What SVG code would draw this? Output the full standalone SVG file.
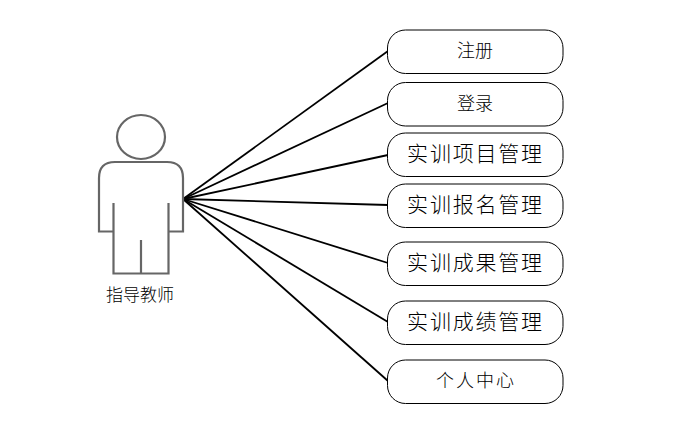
<svg xmlns="http://www.w3.org/2000/svg" width="674" height="435" viewBox="0 0 674 435">
<style>
.box{fill:#fff;stroke:#000;stroke-width:1}
.fig{fill:none;stroke:#666;stroke-width:2.2}
.c{fill:none;stroke:#000;stroke-width:1.8}
text{font-family:"Noto Sans CJK SC","Noto Sans",sans-serif;fill:#000;text-anchor:middle}
.s{font-size:17px;font-weight:300}
.m{font-size:18px;font-weight:300}
.l{font-size:21px;letter-spacing:1.8px;font-weight:300}
</style>
<rect width="674" height="435" fill="#fff"/>
<g id="connectors">
<line class="c" x1="183" y1="199" x2="388" y2="51"/>
<line class="c" x1="183" y1="199" x2="388" y2="103"/>
<line class="c" x1="183" y1="199" x2="388" y2="155"/>
<line class="c" x1="183" y1="199" x2="388" y2="205"/>
<line class="c" x1="183" y1="199" x2="388" y2="263"/>
<line class="c" x1="183" y1="199" x2="388" y2="322"/>
<line class="c" x1="183" y1="199" x2="388" y2="381"/>
</g>
<g id="actor">
<ellipse class="fig" cx="141" cy="137" rx="24" ry="22"/>
<path class="fig" d="M113.500 203V231.500H99V178Q99 162 115 162H167Q183 162 183 178V231.500H168.500V203M113.500 231.500V273.500H168.500V231.500M141 240V273.500"/>
<text class="s" x="140" y="301">指导教师</text>
</g>
<g id="n1"><rect class="box" x="387.500" y="30" width="175.500" height="43.500" rx="18"/><text class="m" x="475" y="57">注册</text></g>
<g id="n2"><rect class="box" x="387.500" y="82.500" width="175.500" height="43.500" rx="18"/><text class="m" x="475" y="110">登录</text></g>
<g id="n3"><rect class="box" x="387.500" y="133" width="175.500" height="43.500" rx="18"/><text class="l" x="475.500" y="161">实训项目管理</text></g>
<g id="n4"><rect class="box" x="387.500" y="184" width="175.500" height="43.500" rx="18"/><text class="l" x="475.500" y="212">实训报名管理</text></g>
<g id="n5"><rect class="box" x="387.500" y="242" width="175.500" height="43.500" rx="18"/><text class="l" x="475.500" y="270">实训成果管理</text></g>
<g id="n6"><rect class="box" x="387.500" y="301" width="175.500" height="43.500" rx="18"/><text class="l" x="475.500" y="329">实训成绩管理</text></g>
<g id="n7"><rect class="box" x="387.500" y="360" width="175.500" height="43.500" rx="18"/><text x="476" y="387" style="font-size:18px;letter-spacing:2px;font-weight:300">个人中心</text></g>
</svg>
